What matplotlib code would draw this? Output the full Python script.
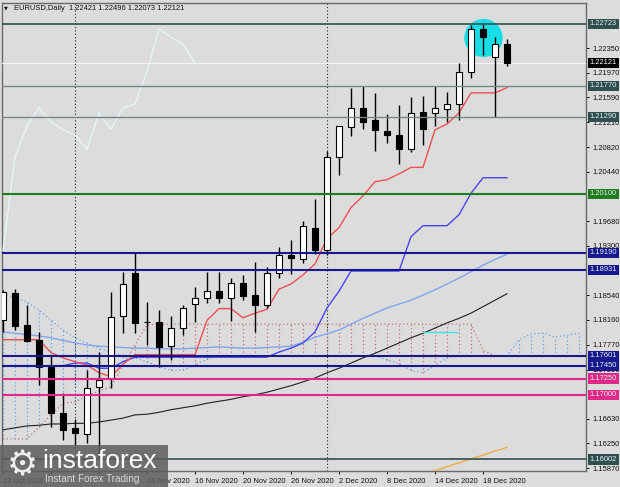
"""EURUSD Daily (MT4 style) - candles, Ichimoku, SMA lines and horizontal levels."""

import matplotlib
matplotlib.use("Agg")
import matplotlib.pyplot as plt
import matplotlib.transforms as mtransforms
import numpy as np
from matplotlib.patches import Ellipse, Rectangle

plt.rcParams["font.family"] = ["Liberation Sans", "DejaVu Sans"]

BG = "#dcdcdc"
FS = 5.4

# --- price data: bar 0 = 23 Oct 2020 ... bar 42 = 22 Dec 2020 -----------------
OPEN = [1.1816, 1.1857, 1.1808, 1.1785, 1.1743, 1.1672, 1.1648, 1.1640, 1.1712,
        1.1724, 1.1822, 1.1888, 1.1813, 1.1813, 1.1775, 1.1803, 1.1840, 1.1849,
        1.1860, 1.1849, 1.1872, 1.1854, 1.1839, 1.1888, 1.1916, 1.1910, 1.1957,
        1.1923, 1.2067, 1.2113, 1.2143, 1.2124, 1.2107, 1.2101, 1.2079, 1.2136,
        1.2135, 1.2141, 1.2149, 1.2198, 1.2265, 1.2221, 1.22421]
HIGH = [1.1861, 1.1863, 1.1838, 1.1797, 1.1762, 1.1703, 1.1662, 1.1738, 1.1766,
        1.1859, 1.1890, 1.1920, 1.1843, 1.1831, 1.1822, 1.1838, 1.1866, 1.1890,
        1.1890, 1.1880, 1.1885, 1.1905, 1.1897, 1.1928, 1.1939, 1.1968, 1.2002,
        1.2076, 1.2115, 1.2173, 1.2177, 1.2166, 1.2133, 1.2147, 1.2160, 1.2161,
        1.2177, 1.2167, 1.2212, 1.2271, 1.2272, 1.2252, 1.22496]
LOW = [1.1797, 1.1800, 1.1781, 1.1715, 1.1650, 1.1630, 1.1622, 1.1625, 1.1603,
       1.1710, 1.1795, 1.1795, 1.1777, 1.1743, 1.1754, 1.1792, 1.1813, 1.1842,
       1.1842, 1.1814, 1.1846, 1.1797, 1.1834, 1.1880, 1.1886, 1.1903, 1.1918,
       1.1915, 1.2039, 1.2100, 1.2110, 1.2076, 1.2089, 1.2056, 1.2074, 1.2085,
       1.2115, 1.2121, 1.2124, 1.2189, 1.2224, 1.2129, 1.22073]
CLOSE = [1.1859, 1.1806, 1.1783, 1.1743, 1.1672, 1.1646, 1.1641, 1.1711, 1.1723,
         1.1820, 1.1871, 1.1811, 1.1812, 1.1774, 1.1803, 1.1834, 1.1849, 1.1860,
         1.1849, 1.1872, 1.1852, 1.1839, 1.1888, 1.1916, 1.1911, 1.1960, 1.1923,
         1.2067, 1.2115, 1.2143, 1.2121, 1.2109, 1.2101, 1.2079, 1.2135, 1.2110,
         1.2143, 1.2149, 1.2198, 1.2265, 1.2252, 1.2241, 1.22121]

# --- indicator values -------------------------------------------------------
TENKAN = [1.1785, 1.1785, 1.1785, 1.1785, 1.1765, 1.1757, 1.1751, 1.1746, 1.1734,
          1.1728, 1.1747, 1.1762, 1.1762, 1.1762, 1.1762, 1.1762, 1.1762, 1.1815,
          1.1833, 1.1833, 1.1819, 1.1826, 1.1832, 1.1863, 1.1871, 1.1885, 1.1902,
          1.1941, 1.1958, 1.1989, 1.2007, 1.2029, 1.2032, 1.2041, 1.2051, 1.2051,
          1.2109, 1.2118, 1.2135, 1.2166, 1.2166, 1.2166, 1.2174]
KIJUN = [1.1745, 1.1745, 1.1745, 1.1745, 1.1745, 1.1745, 1.1749, 1.1749, 1.1741,
         1.1741, 1.1751, 1.1758, 1.1758, 1.1758, 1.1758, 1.1758, 1.1758, 1.1758,
         1.1758, 1.1758, 1.1758, 1.1758, 1.1758, 1.1766, 1.1772, 1.1780, 1.1797,
         1.1834, 1.1860, 1.1891, 1.1891, 1.1891, 1.1891, 1.1891, 1.1944, 1.1961,
         1.1961, 1.1961, 1.1978, 1.2011, 1.2035, 1.2035, 1.2035]
# senkou spans run 6 bars past the last candle
SPAN_A = [1.1854, 1.1851, 1.1843, 1.1831, 1.1815, 1.1800, 1.1788, 1.1780, 1.1772,
          1.1766, 1.1760, 1.1757, 1.1751, 1.1743, 1.1738, 1.1738, 1.1746, 1.1755,
          1.1760, 1.1760, 1.1760, 1.1760, 1.1760, 1.1760, 1.1760, 1.1760, 1.1760,
          1.1760, 1.1760, 1.1760, 1.1760, 1.1760, 1.1754, 1.1748, 1.1738, 1.1734,
          1.1745, 1.1757, 1.1760, 1.1760, 1.1760, 1.1760, 1.1760, 1.1785, 1.1794,
          1.1795, 1.1789, 1.1792, 1.1795]
SPAN_B = [1.1632, 1.1632, 1.1632, 1.1650, 1.1669, 1.1687, 1.1689, 1.1698, 1.1706,
          1.1712, 1.1746, 1.1777, 1.1808, 1.1809, 1.1809, 1.1809, 1.1809, 1.1809,
          1.1809, 1.1809, 1.1809, 1.1809, 1.1809, 1.1809, 1.1809, 1.1809, 1.1809,
          1.1809, 1.1809, 1.1809, 1.1809, 1.1809, 1.1809, 1.1809, 1.1809, 1.1809,
          1.1809, 1.1809, 1.1809, 1.1809, 1.1769, 1.1760, 1.1760, 1.1760, 1.1760,
          1.1760, 1.1760, 1.1760, 1.1760]
SMA_BLUE = [1.1797, 1.1795, 1.1793, 1.1791, 1.1788, 1.1784, 1.1780, 1.1777, 1.1775,
            1.1774, 1.1773, 1.1772, 1.1772, 1.1771, 1.1771, 1.1771, 1.1772, 1.1773,
            1.1774, 1.1773, 1.1772, 1.1772, 1.1773, 1.1774, 1.1775, 1.1781, 1.1789,
            1.1794, 1.1800, 1.1809, 1.1818, 1.1826, 1.1834, 1.1840, 1.1846, 1.1854,
            1.1862, 1.1871, 1.1880, 1.1890, 1.1900, 1.1909, 1.1917]
SMA_BLACK = [1.1646, 1.1649, 1.1652, 1.1653, 1.1655, 1.1655, 1.1656, 1.1656, 1.1658,
             1.1661, 1.1664, 1.1669, 1.1670, 1.1673, 1.1677, 1.1680, 1.1683, 1.1687,
             1.1690, 1.1693, 1.1697, 1.1700, 1.1704, 1.1709, 1.1714, 1.1720, 1.1726,
             1.1734, 1.1741, 1.1749, 1.1757, 1.1764, 1.1772, 1.1780, 1.1788, 1.1795,
             1.1803, 1.1811, 1.1818, 1.1826, 1.1836, 1.1846, 1.1856]
ORANGE_BARS = [35, 36, 37, 38, 39, 40, 41, 42]
ORANGE = [1.1577, 1.1583, 1.1589, 1.1595, 1.1601, 1.1607, 1.1613, 1.1619]
CHIKOU_SHIFT = 26

# --- horizontal levels ---------------------------------------------------------
LEVELS = [1.22723, 1.21770, 1.21290, 1.20100, 1.19190, 1.18931,
          1.17601, 1.17450, 1.17250, 1.17000, 1.16002]
LEVEL_LINE = ["#3d5a5a", "#748888", "#748888", "#1f7d1f", "#17178e", "#17178e",
              "#17178e", "#17178e", "#dd2a8a", "#dd2a8a", "#3d5a5a"]
LEVEL_BOX = ["#2f4f4f", "#2f4f4f", "#2f4f4f", "#1f7d1f", "#17178e", "#17178e",
             "#17178e", "#17178e", "#dd2a8a", "#dd2a8a", "#2f4f4f"]
LEVEL_LW = [1.3, 1.0, 1.0, 1.5, 1.5, 1.5, 1.5, 1.5, 1.5, 1.5, 1.3]
BID = 1.22121
CYAN_SEG = ([35, 37.8], [1.1797, 1.1797])

PRICE_TICKS = [1.15870, 1.16250, 1.16630, 1.17390, 1.17770, 1.18160, 1.18540,
               1.19300, 1.19680, 1.20440, 1.20820, 1.21210, 1.21590, 1.21970,
               1.22350]
# labels for 29 Oct / 4 Nov sit fully under the watermark, so left blank
DATE_TICKS = [0, 4, 8, 12, 16, 20, 24, 28, 32, 36, 40]
DATE_LABELS = ["23 Oct 2020", "", "", "10 Nov 2020",
               "16 Nov 2020", "20 Nov 2020", "26 Nov 2020", "2 Dec 2020",
               "8 Dec 2020", "14 Dec 2020", "18 Dec 2020"]
MONTH_SEPS = [6, 27]

# ---------------------------------------------------------------------------
fig = plt.figure(figsize=(6.2, 4.87), dpi=100, facecolor=BG)
ax = fig.add_axes([2 / 620, 16 / 487, 584 / 620, 468 / 487], facecolor=BG)
ax.set_xlim(-0.083, 48.583)
ax.set_ylim(1.15824, 1.23047)

x = np.arange(len(OPEN))
o, h, l, c = map(np.array, (OPEN, HIGH, LOW, CLOSE))

for s in MONTH_SEPS:
    ax.axvline(s, color="#222222", lw=0.8, ls=(0, (1, 2)), zorder=1)

ax.add_patch(Ellipse((40.04, 1.22507), 3.2, 0.0059, fc="#19dde6", ec="none",
                     zorder=2))

# Ichimoku cloud as dotted verticals
xa = np.arange(len(SPAN_A))
a, b = np.array(SPAN_A), np.array(SPAN_B)
up = a >= b
ax.vlines(xa[up], b[up], a[up], colors="#5aa5f0", lw=0.9, ls=(0, (1, 2)), zorder=2)
ax.vlines(xa[~up], a[~up], b[~up], colors="#c87070", lw=0.9, ls=(0, (1, 2)), zorder=2)
ax.plot(xa, a, color="#5aa5f0", lw=0.9, ls=(0, (1, 2)), zorder=3)
ax.plot(xa, b, color="#c87070", lw=0.9, ls=(0, (1, 2)), zorder=3)

ax.plot(x, SMA_BLACK, color="#202020", lw=0.8, zorder=3)
ax.plot(x, SMA_BLUE, color="#7fa6ee", lw=1.0, zorder=3)
ax.plot(ORANGE_BARS, ORANGE, color="#f5a849", lw=1.0, zorder=3)
ax.plot(x, KIJUN, color="#4747f5", lw=1.0, zorder=3)
ax.plot(x, TENKAN, color="#f05050", lw=1.0, zorder=3)
ax.plot(x[:len(x) - CHIKOU_SHIFT], c[CHIKOU_SHIFT:], color="#e4f6f6", lw=1.0,
        zorder=3)
ax.plot(*CYAN_SEG, color="#3fe3ee", lw=1.0, zorder=3)

# candles
ax.vlines(x, l, h, color="black", lw=1.0, zorder=5)
body_lo = np.minimum(o, c)
body_h = np.maximum(np.abs(c - o), 0.00004)
fills = ["white" if cc >= oo else "black" for oo, cc in zip(o, c)]
ax.bar(x, body_h, bottom=body_lo, width=0.58, color=fills, edgecolor="black",
       linewidth=0.8, zorder=6)

# levels + price boxes
blend = mtransforms.blended_transform_factory(ax.transAxes, ax.transData)
ax.axhline(BID, color="#f4f4f4", lw=0.8, zorder=4)
for lev, lc, bc, lw in zip(LEVELS, LEVEL_LINE, LEVEL_BOX, LEVEL_LW):
    ax.axhline(lev, color=lc, lw=lw, zorder=7)
    ax.text(1.0065, lev, f"{lev:.5f}", transform=blend, ha="left", va="center",
            fontsize=FS, color="#e6eeee", clip_on=False, zorder=10,
            bbox=dict(boxstyle="square,pad=0.22", fc=bc, ec="none"))
ax.text(1.0065, BID, f"{BID:.5f}", transform=blend, ha="left", va="center",
        fontsize=FS, color="white", clip_on=False, zorder=10,
        bbox=dict(boxstyle="square,pad=0.22", fc="black", ec="none"))

# axes cosmetics
for sp in ax.spines.values():
    sp.set_color("#6a6a6a")
    sp.set_linewidth(1.0)
ax.yaxis.tick_right()
ax.set_yticks(PRICE_TICKS)
ax.set_yticklabels([f"{t:.5f}" for t in PRICE_TICKS])
ax.set_xticks(DATE_TICKS)
ax.set_xticklabels(DATE_LABELS, ha="left")
ax.tick_params(axis="y", direction="out", length=2.5, width=0.7, pad=1.8,
               labelsize=FS, colors="#111111")
ax.tick_params(axis="x", direction="out", length=2.5, width=0.7, pad=2.5,
               labelsize=FS, colors="#111111")

# title
fig.text(4 / 620, 1 - 8 / 487, "\u25bc", fontsize=3.6, va="center",
         family="DejaVu Sans", color="#111111")
fig.text(14 / 620, 1 - 8 / 487,
         "EURUSD,Daily  1.22421 1.22496 1.22073 1.22121",
         fontsize=FS, va="center", color="#111111")

# watermark logo
fig.patches.append(Rectangle((0, 0), 168 / 620, 42 / 487, transform=fig.transFigure,
                             fc="#5c5c5c", ec="none", alpha=0.85, zorder=20))
fig.text(22 / 620, 1 - 465 / 487, "\u2699", fontsize=25, ha="center", va="center",
         family="DejaVu Sans", color="#eeeeee", zorder=21)
fig.text(42 / 620, 1 - 461 / 487, "instaforex", fontsize=19, ha="left",
         va="center", color="white", zorder=21)
fig.text(45 / 620, 1 - 479 / 487, "Instant Forex Trading", fontsize=7.2,
         ha="left", va="center", color="#d8d8d8", zorder=21)

fig.savefig("out.png", dpi=100, facecolor=BG)
